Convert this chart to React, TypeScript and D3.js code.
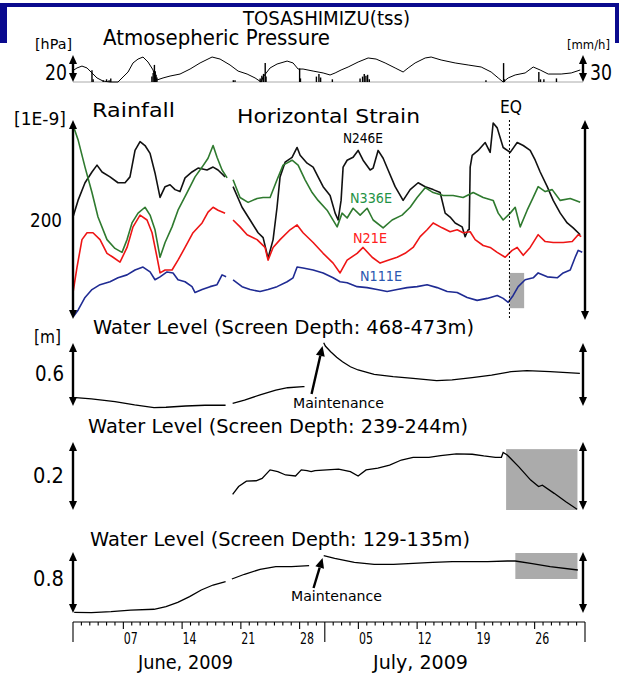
import React from 'react';
import * as d3 from 'd3';

type Pt = [number, number | null];

// ---- axis / calendar ----
const TICK_DAYS = d3.range(0, 62);
const MAJOR_DAYS = [6, 13, 20, 27, 34, 41, 48, 55];
const MAJOR_LABELS = ['07', '14', '21', '28', '05', '12', '19', '26'];
const MONTH_DAYS = [0, 30, 61];
const MONTH_LABELS = ['June, 2009', 'July, 2009'];
const EQ_DAY = 52.0;

// ---- atmospheric pressure [hPa] ----
const pressure: Pt[] = [[0.1,1008.9],[0.48,1010.4],[1.07,1011.8],[1.67,1010.4],[2.26,1006.7],[2.86,1003.0],[3.58,1000.7],[4.41,1000.0],[5.36,1000.0],[5.96,1003.7],[6.56,1007.4],[7.15,1014.1],[7.75,1017.0],[8.34,1018.5],[8.94,1014.8],[9.54,1008.9],[9.77,1003.0],[10.01,1001.5],[10.73,1003.0],[11.56,1004.4],[12.75,1005.9],[13.95,1009.6],[15.14,1014.1],[16.57,1018.5],[17.52,1017.0],[18.71,1012.6],[19.67,1008.1],[20.74,1005.9],[21.69,1003.0],[22.41,1000.0],[22.65,1003.7],[23.48,1010.4],[24.31,1013.3],[25.51,1015.5],[26.22,1014.1],[26.82,1009.6],[27.41,1009.6],[28.61,1008.1],[29.8,1006.7],[30.63,1005.2],[31.23,1006.7],[31.94,1008.9],[32.78,1011.1],[33.97,1014.8],[35.16,1017.8],[36.11,1017.0],[37.19,1014.1],[38.38,1010.4],[39.33,1007.4],[39.93,1010.4],[40.76,1014.1],[41.96,1017.8],[42.67,1018.5],[43.86,1016.3],[45.53,1014.1],[47.08,1012.6],[48.63,1011.1],[49.82,1007.4],[50.66,1003.0],[51.25,1000.0],[51.85,1003.0],[52.68,1005.2],[53.87,1006.7],[54.83,1011.1],[55.66,1008.9],[56.62,1005.9],[58.16,1005.9],[59.36,1006.7],[60.43,1008.9]];

// ---- rainfall [mm/h] ----
const rainfall: [number, number][] = [[2.26,13],[2.4,3],[3.6,2],[4.0,3],[4.3,2],[4.5,4],[9.4,6],[9.55,10],[9.7,19],[9.8,12],[9.9,8],[10.0,5],[19.1,2],[19.3,2],[22.3,4],[22.5,7],[22.7,9],[22.9,21],[23.0,6],[27.0,15],[27.1,4],[29.0,6],[29.3,9],[29.5,5],[30.9,3],[34.2,4],[34.5,6],[34.7,9],[34.9,7],[35.1,8],[35.3,3],[49.2,2],[51.3,21],[51.4,3],[55.5,11],[55.7,3],[56.1,3],[57.6,4]];

// ---- horizontal strain [1E-9] ----
const strainN246E: Pt[] = [[0,103],[0.6,120],[1.43,138],[2.26,149],[2.86,156],[3.46,149],[4.41,144],[5.36,138],[6.2,138],[6.79,144],[7.39,171],[7.99,180],[8.58,176],[9.18,168],[9.77,148],[10.37,123],[10.97,134],[11.56,136],[12.16,131],[12.75,129],[13.35,143],[14.18,149],[14.9,153],[15.97,151],[16.69,154],[17.28,151],[18.12,144],[18.6,null],[19.07,134],[20.14,113],[21.1,100],[22.05,87],[22.65,82],[23.24,61],[23.84,80],[24.31,113],[24.67,144],[25.27,159],[26.1,164],[26.7,174],[27.06,166],[27.89,158],[28.61,154],[29.2,144],[29.8,134],[30.63,125],[31.23,107],[31.59,100],[31.94,120],[32.18,154],[32.66,161],[33.37,164],[33.97,171],[34.56,161],[35.4,151],[35.76,153],[36.35,171],[36.95,163],[37.54,151],[38.38,134],[39.33,120],[40.17,131],[41.12,138],[41.96,134],[42.91,131],[43.74,128],[44.34,107],[44.93,103],[45.53,97],[46.36,93],[46.72,83],[47.08,90],[47.2,90],[47.32,154],[47.56,166],[48.27,171],[49.11,179],[49.7,169],[50.06,199],[50.54,194],[51.25,174],[52.09,169],[52.92,179],[53.64,176],[54.47,171],[55.07,161],[55.66,149],[56.5,134],[57.21,120],[58.05,107],[58.88,97],[59.59,92],[60.43,85]];
const strainN336E: Pt[] = [[0,197],[0.6,182],[1.43,154],[2.26,128],[2.98,103],[4.05,80],[5.0,71],[5.84,67],[6.44,80],[7.03,97],[7.75,107],[8.58,113],[9.18,105],[9.77,90],[10.37,62],[10.97,77],[11.8,93],[12.51,110],[13.59,128],[14.54,144],[15.38,154],[16.09,163],[16.69,176],[17.16,164],[17.76,151],[18.36,143],[18.6,null],[19.07,141],[19.9,123],[20.86,118],[21.93,122],[22.65,123],[23.48,123],[24.31,141],[25.03,156],[26.1,161],[26.82,156],[27.65,141],[28.49,128],[29.2,120],[30.27,110],[31.47,93],[32.06,107],[32.66,102],[33.37,112],[34.21,105],[35.04,112],[35.76,100],[36.95,92],[38.02,100],[39.21,105],[40.17,113],[41.0,123],[41.96,133],[42.91,128],[44.1,125],[45.29,125],[46.48,123],[47.68,128],[48.87,123],[50.06,120],[50.66,107],[51.25,100],[52.09,107],[52.68,113],[53.28,93],[54.11,110],[54.83,123],[55.42,134],[56.26,129],[57.09,131],[58.05,120],[59.24,122],[60.43,118]];
const strainN21E: Pt[] = [[0,26],[0.48,52],[1.07,80],[1.67,87],[2.38,87],[3.22,80],[4.05,66],[4.77,62],[5.6,57],[6.44,72],[7.15,93],[7.99,105],[8.82,100],[9.42,87],[10.01,62],[10.37,46],[10.97,49],[11.8,49],[12.51,59],[13.35,72],[14.3,87],[15.38,97],[16.09,108],[16.69,113],[17.28,110],[18.12,107],[18.6,null],[19.07,100],[19.9,93],[20.74,85],[21.93,80],[22.88,72],[23.24,59],[23.84,72],[24.67,80],[25.86,90],[26.7,95],[27.41,87],[28.61,77],[29.8,66],[30.99,56],[31.82,46],[32.66,59],[33.85,66],[34.56,72],[35.64,62],[36.59,56],[37.54,59],[38.62,62],[39.57,66],[40.52,72],[41.36,83],[42.19,90],[42.91,97],[43.98,92],[44.93,88],[45.77,90],[46.48,87],[47.32,88],[47.91,80],[48.87,74],[49.7,72],[50.54,67],[51.49,62],[52.32,69],[52.92,72],[53.64,64],[54.47,72],[55.42,85],[56.26,78],[57.21,77],[58.4,77],[59.48,78],[60.19,85],[60.55,83]];
const strainN111E: Pt[] = [[0,1],[0.6,8],[1.43,21],[2.26,29],[3.22,34],[4.41,37],[5.36,41],[6.44,44],[7.39,49],[8.34,52],[9.18,47],[9.77,39],[10.37,42],[11.2,47],[11.92,46],[12.51,39],[13.35,37],[14.18,32],[14.54,26],[15.38,29],[16.33,32],[17.16,34],[17.76,44],[18.24,42],[18.6,null],[19.07,39],[20.14,32],[21.1,29],[22.29,27],[23.24,29],[24.31,32],[25.51,37],[26.22,41],[26.7,52],[27.41,51],[28.61,49],[29.8,46],[30.99,41],[31.82,37],[32.66,36],[33.85,32],[35.04,31],[36.23,29],[37.43,27],[38.62,29],[39.81,31],[41.0,32],[42.19,34],[43.38,31],[44.58,27],[45.77,26],[46.96,21],[48.15,18],[49.34,20],[50.54,23],[51.25,20],[51.85,16],[52.44,23],[53.04,32],[53.87,39],[54.83,41],[55.42,46],[56.5,42],[57.69,41],[58.4,46],[59.24,49],[59.83,62],[60.19,69],[60.67,67]];

// ---- water levels [m] ----
const wl468: Pt[] = [[0.32,0.079],[2.19,0.067],[5.0,0.041],[7.34,0.010],[9.65,-0.016],[11.08,-0.012],[13.41,0.000],[15.73,0.007],[18.18,0.007],[18.6,null],[19.02,0.026],[20.43,0.057],[22.29,0.105],[24.16,0.152],[25.57,0.174],[27.41,0.184],[27.58,0.184],[28.5,null],[29.87,0.603],[30.06,0.571],[30.7,0.517],[31.41,0.464],[32.11,0.422],[33.05,0.374],[33.97,0.343],[35.88,0.302],[38.14,0.279],[40.52,0.264],[43.33,0.241],[45.17,0.248],[47.56,0.270],[49.87,0.295],[52.2,0.327],[54.08,0.336],[56.85,0.327],[60.39,0.311]];
const wl239: Pt[] = [[19.02,0.046],[19.73,0.069],[20.66,0.085],[21.81,0.086],[22.53,0.093],[23.48,0.118],[24.4,0.113],[25.33,0.103],[26.51,0.100],[27.2,0.118],[27.89,0.116],[28.37,0.113],[28.84,0.116],[30.24,0.118],[31.64,0.120],[33.05,0.113],[33.97,0.100],[34.92,0.118],[36.32,0.123],[37.72,0.132],[39.12,0.147],[40.52,0.155],[42.4,0.155],[43.8,0.160],[45.67,0.165],[47.56,0.164],[48.94,0.159],[50.33,0.155],[51.04,0.155],[51.25,0.169],[51.73,0.162],[53.12,0.127],[54.53,0.088],[55.47,0.069],[55.92,0.073],[57.33,0.049],[58.72,0.024],[60.05,0.002]];
const wl129: Pt[] = [[0.14,0.009],[2.19,0.004],[4.53,0.017],[6.87,0.039],[9.65,0.049],[11.08,0.083],[12.48,0.140],[13.89,0.214],[15.28,0.302],[16.69,0.367],[18.18,0.410],[18.5,null],[18.93,0.446],[20.43,0.508],[22.29,0.573],[24.16,0.607],[26.03,0.607],[28.13,0.620],[29.0,null],[29.87,0.751],[31.18,0.717],[33.52,0.665],[35.88,0.639],[38.19,0.639],[40.52,0.652],[42.86,0.665],[45.2,0.673],[47.56,0.673],[49.4,0.673],[51.75,0.682],[52.68,0.682],[54.53,0.652],[56.85,0.607],[60.15,0.564]];

// highlighted (gray) periods: [startDay, endDay, low, high]
const strainBox = [52.0, 53.75, 10, 46];
const wl239Box = [51.6, 60.1, 0, 0.179];
const wl129Box = [52.7, 60.1, 0.446, 0.787];
// maintenance day
const MAINT_DAY = 29.85;

const FONT = '"DejaVu Sans", sans-serif';

function Txt(p: { x: number; y: number; w: number; size: number; fill?: string; children: string }) {
  return (
    <text x={p.x} y={p.y} fontSize={p.size} fontFamily={FONT} fill={p.fill || '#000'}
      textLength={p.w} lengthAdjust="spacingAndGlyphs">{p.children}</text>
  );
}

function DArrow({ x, y1, y2 }: { x: number; y1: number; y2: number }) {
  const hw = 4, hl = 9;
  return (
    <g>
      <line x1={x} x2={x} y1={y1 + hl - 1} y2={y2 - hl + 1} stroke="#000" strokeWidth={2.4} />
      <path d={`M${x},${y1} L${x - hw},${y1 + hl} L${x + hw},${y1 + hl} Z`} fill="#000" />
      <path d={`M${x},${y2} L${x - hw},${y2 - hl} L${x + hw},${y2 - hl} Z`} fill="#000" />
    </g>
  );
}

function Pointer({ x1, y1, x2, y2 }: { x1: number; y1: number; x2: number; y2: number }) {
  const ang = Math.atan2(y2 - y1, x2 - x1);
  const hl = 10, hw = 4.5;
  const bx = x2 - hl * Math.cos(ang), by = y2 - hl * Math.sin(ang);
  const px = -Math.sin(ang), py = Math.cos(ang);
  return (
    <g>
      <line x1={x1} y1={y1} x2={bx} y2={by} stroke="#000" strokeWidth={2.4} />
      <path d={`M${x2},${y2} L${bx + px * hw},${by + py * hw} L${bx - px * hw},${by - py * hw} Z`} fill="#000" />
    </g>
  );
}

export default function App() {
  const x = d3.scaleLinear().domain([0, 61]).range([73, 585]);
  const yP = d3.scaleLinear().domain([1000, 1020]).range([82, 55]);
  const yR = d3.scaleLinear().domain([0, 30]).range([82, 55]);
  const yS = d3.scaleLinear().domain([0, 200]).range([318, 122]);
  const yW1 = d3.scaleLinear().domain([0, 0.6]).range([406, 343]);
  const yW2 = d3.scaleLinear().domain([0, 0.2]).range([510, 442]);
  const yW3 = d3.scaleLinear().domain([0, 0.8]).range([613, 552]);

  const mk = (ys: d3.ScaleLinear<number, number>) =>
    d3.line<Pt>().defined(d => d[1] !== null).x(d => x(d[0])).y(d => ys(d[1] as number));

  const strain = [
    { data: strainN246E, color: '#111111' },
    { data: strainN336E, color: '#2f7a2f' },
    { data: strainN21E, color: '#ee1515' },
    { data: strainN111E, color: '#1f2b93' },
  ];
  const axisY = 622;
  const monthLabelX = [138, 373];

  return (
    <svg width={619} height={676} style={{ position: 'absolute', left: 0, top: 0, background: '#fff' }}>
      {/* frame */}
      <rect x={0} y={3} width={619} height={4} fill="#0a0a8e" />
      <rect x={0} y={3} width={7} height={40} fill="#0a0a8e" />
      <rect x={615} y={3} width={4} height={40} fill="#0a0a8e" />

      <Txt x={243} y={25} w={167} size={20}>TOSASHIMIZU(tss)</Txt>
      <Txt x={103} y={45} w={227} size={21}>Atmosepheric Pressure</Txt>
      <Txt x={35} y={49} w={37} size={14}>[hPa]</Txt>
      <Txt x={567} y={49} w={43} size={13}>[mm/h]</Txt>
      <Txt x={45} y={80} w={22} size={22}>20</Txt>
      <Txt x={590} y={80} w={22} size={22}>30</Txt>

      {/* pressure & rain */}
      <line x1={73} x2={583} y1={yR(0)} y2={yR(0)} stroke="#aaa" strokeWidth={1} />
      {rainfall.map((r, i) => (
        <line key={i} x1={x(r[0])} x2={x(r[0])} y1={yR(0)} y2={yR(r[1])} stroke="#000" strokeWidth={1.4} />
      ))}
      <path d={mk(yP)(pressure) || ''} fill="none" stroke="#000" strokeWidth={1} />
      <DArrow x={73} y1={55} y2={82} />
      <DArrow x={583} y1={55} y2={82} />

      {/* strain */}
      <Txt x={14} y={125} w={52} size={17}>[1E-9]</Txt>
      <Txt x={92} y={117} w={83} size={20}>Rainfall</Txt>
      <Txt x={237} y={123} w={183} size={20}>Horizontal Strain</Txt>
      <Txt x={500} y={113} w={22} size={18}>EQ</Txt>
      <Txt x={30} y={227} w={32} size={20}>200</Txt>
      <rect x={x(strainBox[0])} y={yS(strainBox[3])} width={x(strainBox[1]) - x(strainBox[0])}
        height={yS(strainBox[2]) - yS(strainBox[3])} fill="#ababab" />
      {strain.map((s, i) => (
        <path key={i} d={mk(yS)(s.data) || ''} fill="none" stroke={s.color} strokeWidth={1.6} strokeLinejoin="round" />
      ))}
      <line x1={x(EQ_DAY)} x2={x(EQ_DAY)} y1={120} y2={320} stroke="#000" strokeWidth={1} strokeDasharray="2,2" />
      <Txt x={343} y={143} w={40} size={14}>N246E</Txt>
      <Txt x={350} y={203} w={42} size={14} fill="#1f9346">N336E</Txt>
      <Txt x={353} y={243} w={34} size={14} fill="#ff2020">N21E</Txt>
      <Txt x={360} y={281} w={42} size={14} fill="#2a56b0">N111E</Txt>
      <DArrow x={73} y1={120} y2={319} />
      <DArrow x={585} y1={120} y2={320} />

      {/* water level 1 */}
      <Txt x={93} y={334} w={381} size={20}>Water Level (Screen Depth: 468-473m)</Txt>
      <Txt x={34} y={343} w={27} size={17}>[m]</Txt>
      <Txt x={35} y={381} w={29} size={21}>0.6</Txt>
      <path d={mk(yW1)(wl468) || ''} fill="none" stroke="#000" strokeWidth={1.3} />
      <DArrow x={73} y1={343} y2={406} />
      <DArrow x={583} y1={343} y2={406} />
      <Pointer x1={x(MAINT_DAY) - 12} y1={394} x2={x(MAINT_DAY) - 1} y2={346} />
      <Txt x={293} y={408} w={91} size={14}>Maintenance</Txt>

      {/* water level 2 */}
      <Txt x={88} y={433} w={380} size={20}>Water Level (Screen Depth: 239-244m)</Txt>
      <Txt x={33} y={483} w={31} size={21}>0.2</Txt>
      <rect x={x(wl239Box[0])} y={yW2(wl239Box[3])} width={x(wl239Box[1]) - x(wl239Box[0])}
        height={yW2(wl239Box[2]) - yW2(wl239Box[3])} fill="#ababab" />
      <path d={mk(yW2)(wl239) || ''} fill="none" stroke="#000" strokeWidth={1.3} />
      <DArrow x={73} y1={442} y2={510} />
      <DArrow x={583} y1={442} y2={510} />

      {/* water level 3 */}
      <Txt x={90} y={546} w={380} size={20}>Water Level (Screen Depth: 129-135m)</Txt>
      <Txt x={33} y={586} w={31} size={21}>0.8</Txt>
      <rect x={x(wl129Box[0])} y={yW3(wl129Box[3])} width={x(wl129Box[1]) - x(wl129Box[0])}
        height={yW3(wl129Box[2]) - yW3(wl129Box[3])} fill="#ababab" />
      <path d={mk(yW3)(wl129) || ''} fill="none" stroke="#000" strokeWidth={1.3} />
      <DArrow x={73} y1={552} y2={613} />
      <DArrow x={583} y1={552} y2={613} />
      <Pointer x1={x(MAINT_DAY) - 10} y1={588} x2={x(MAINT_DAY) - 1} y2={558} />
      <Txt x={291} y={601} w={91} size={14}>Maintenance</Txt>

      {/* time axis */}
      <line x1={x(0)} x2={x(61)} y1={axisY} y2={axisY} stroke="#000" strokeWidth={1.2} />
      {TICK_DAYS.map(d => {
        const len = MONTH_DAYS.includes(d) ? 20 : MAJOR_DAYS.includes(d) ? 7 : 3.5;
        return <line key={d} x1={x(d)} x2={x(d)} y1={axisY} y2={axisY + len} stroke="#000" strokeWidth={1.1} />;
      })}
      {MAJOR_DAYS.map((d, i) => (
        <Txt key={d} x={x(d) + 0.5} y={644} w={14} size={16}>{MAJOR_LABELS[i]}</Txt>
      ))}
      {MONTH_LABELS.map((m, i) => (
        <Txt key={m} x={monthLabelX[i]} y={669} w={95} size={19}>{m}</Txt>
      ))}
    </svg>
  );
}
